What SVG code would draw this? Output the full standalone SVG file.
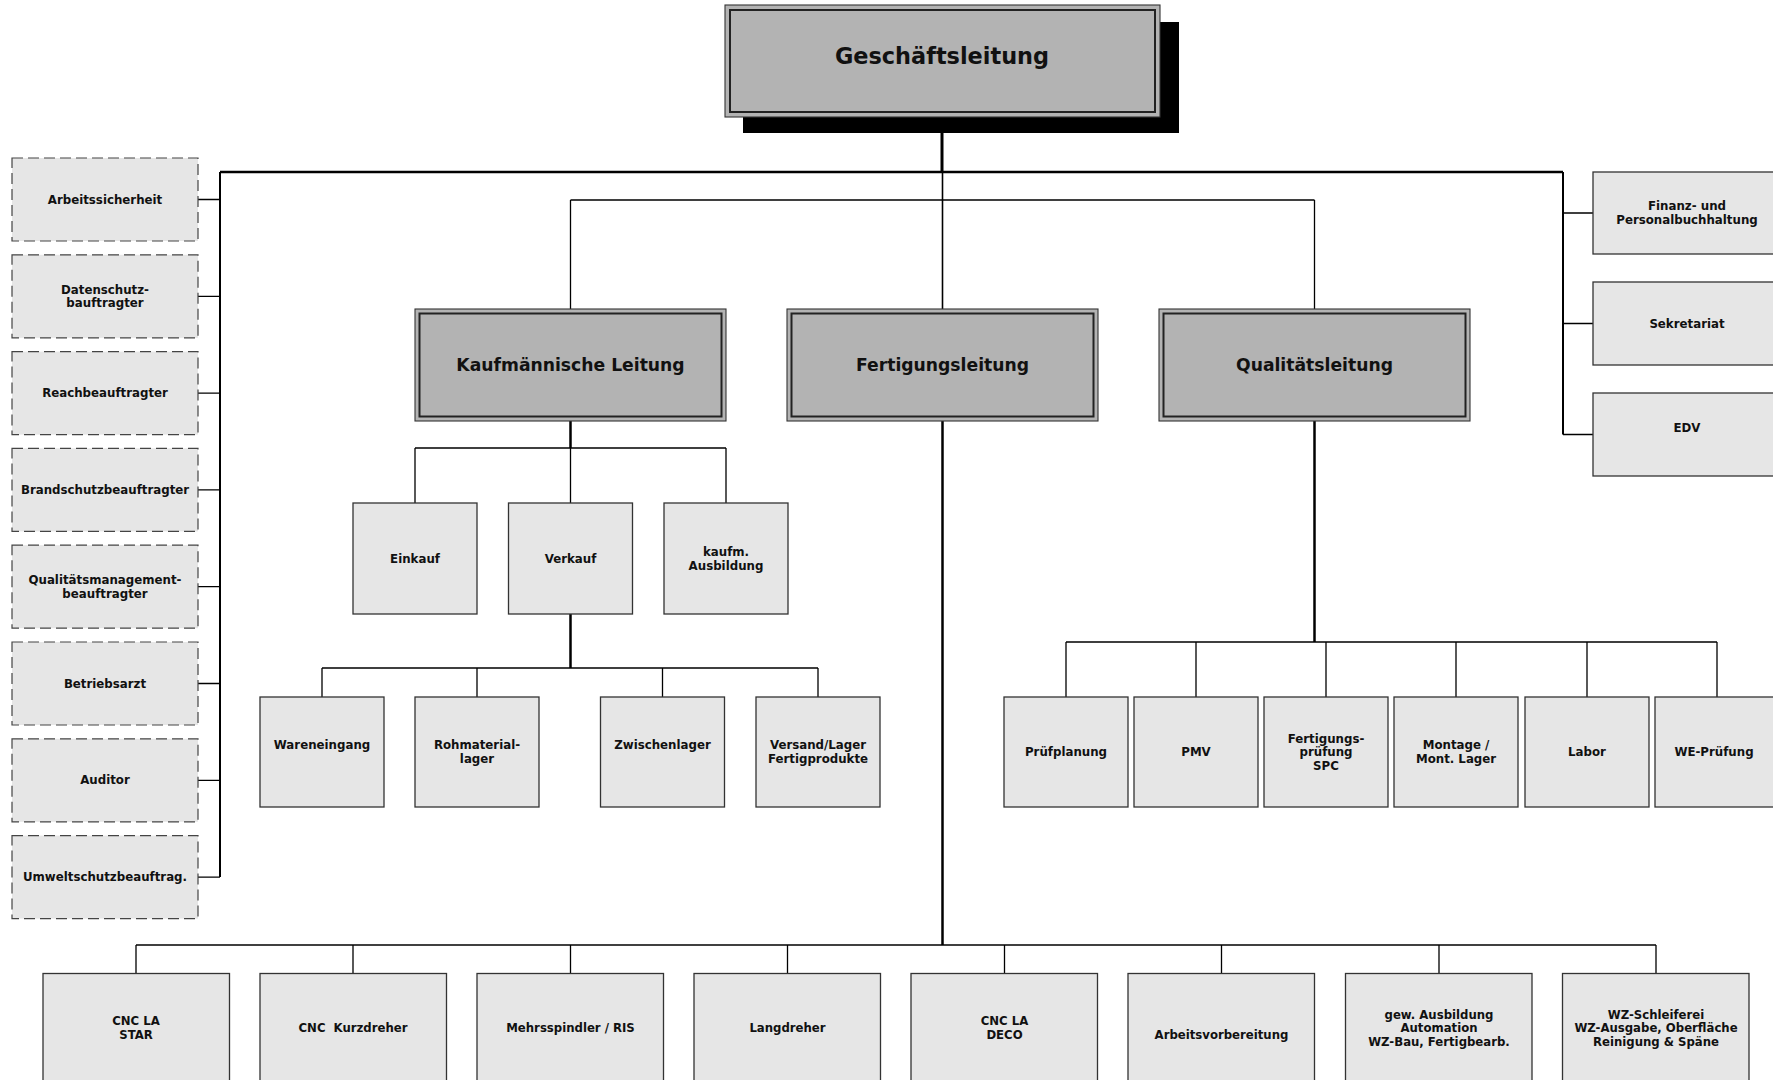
<svg xmlns="http://www.w3.org/2000/svg" width="1773" height="1080" viewBox="0 0 1773 1080">
<style>
.big{fill:#b3b3b3;stroke:#333;stroke-width:1.1}
.bigin{fill:none;stroke:#222;stroke-width:2}
.box{fill:#e6e6e6;stroke:#333;stroke-width:1.3}
.dbox{fill:#e6e6e6;stroke:#444;stroke-width:1.2;stroke-dasharray:11 5}
.t{font-family:"DejaVu Sans",sans-serif;font-weight:bold;font-size:11.8px;text-anchor:middle;fill:#111}
.tc{font-family:"DejaVu Sans Condensed","DejaVu Sans",sans-serif;font-stretch:condensed;font-weight:bold;font-size:13px;text-anchor:middle;fill:#111}
.t2{font-family:"DejaVu Sans",sans-serif;font-weight:bold;font-size:17.2px;text-anchor:middle;fill:#111}
.t1{font-family:"DejaVu Sans",sans-serif;font-weight:bold;font-size:22.4px;text-anchor:middle;fill:#111}
.c{fill:none;stroke:#000;stroke-width:1.3}
.ck{fill:none;stroke:#000;stroke-width:2.5}
</style>
<rect width="1773" height="1080" fill="#fff"/>
<g id="connectors">
<path class="ck" d="M942 117V172" style="stroke-width:3"/>
<path class="ck" d="M220 172H1563"/>
<path class="c" d="M220 172V877.1" style="stroke-width:2"/>
<path class="c" d="M198 199.5H220M198 296.3H220M198 393.1H220M198 489.9H220M198 586.7H220M198 683.5H220M198 780.3H220M198 877.1H220"/>
<path class="c" d="M1563 172V434.5" style="stroke-width:2"/>
<path class="c" d="M1563 213H1593M1563 323.5H1593M1563 434.5H1593"/>
<path class="c" d="M942.5 172V309" style="stroke-width:1.6"/>
<path class="c" d="M570.5 200H1314.5M570.5 200V309M1314.5 200V309"/>
<path class="ck" d="M570.5 421V448"/>
<path class="c" d="M415 448H726M415 448V503M570.5 448V503M726 448V503"/>
<path class="ck" d="M570.5 614V668"/>
<path class="c" d="M322 668H818M322 668V697M477 668V697M662.5 668V697M818 668V697"/>
<path class="ck" d="M1314.5 421V642"/>
<path class="c" d="M1066 642H1717M1066 642V697M1196 642V697M1326 642V697M1456 642V697M1587 642V697M1717 642V697"/>
<path class="ck" d="M942.5 421V945"/>
<path class="c" d="M136 945H1656" style="stroke-width:1.7"/>
<path class="c" d="M136 945V973.5M353 945V973.5M570.5 945V973.5M787.5 945V973.5M1004.5 945V973.5M1221.5 945V973.5M1439 945V973.5M1656 945V973.5"/>
</g>
<g id="geschaeftsleitung">
<rect x="743" y="22" width="436" height="111" fill="#000"/>
<rect class="big" x="725" y="5" width="435" height="112"/>
<rect class="bigin" x="730" y="10" width="425" height="102"/>
<text class="t1" x="942" y="64">Geschäftsleitung</text>
</g>
<g id="kaufm-leitung">
<rect class="big" x="415" y="309" width="311" height="112"/>
<rect class="bigin" x="419.5" y="313.5" width="302" height="103"/>
<text class="t2" x="570.5" y="371">Kaufmännische Leitung</text>
</g>
<g id="fertigungsleitung">
<rect class="big" x="787" y="309" width="311" height="112"/>
<rect class="bigin" x="791.5" y="313.5" width="302" height="103"/>
<text class="t2" x="942.5" y="371">Fertigungsleitung</text>
</g>
<g id="qualitaetsleitung">
<rect class="big" x="1159" y="309" width="311" height="112"/>
<rect class="bigin" x="1163.5" y="313.5" width="302" height="103"/>
<text class="t2" x="1314.5" y="371">Qualitätsleitung</text>
</g>
<g id="arbeitssicherheit"><rect class="dbox" x="12" y="158" width="186" height="83"/><text class="t" x="105" y="203.5">Arbeitssicherheit</text></g>
<g id="datenschutz"><rect class="dbox" x="12" y="254.8" width="186" height="83"/><text class="t" x="105" y="293.5">Datenschutz-</text><text class="t" x="105" y="307">bauftragter</text></g>
<g id="reach"><rect class="dbox" x="12" y="351.6" width="186" height="83"/><text class="t" x="105" y="397.1">Reachbeauftragter</text></g>
<g id="brandschutz"><rect class="dbox" x="12" y="448.4" width="186" height="83"/><text class="t" x="105" y="493.9">Brandschutzbeauftragter</text></g>
<g id="qm"><rect class="dbox" x="12" y="545.2" width="186" height="83"/><text class="t" x="105" y="584">Qualitätsmanagement-</text><text class="t" x="105" y="597.5">beauftragter</text></g>
<g id="betriebsarzt"><rect class="dbox" x="12" y="642" width="186" height="83"/><text class="t" x="105" y="687.5">Betriebsarzt</text></g>
<g id="auditor"><rect class="dbox" x="12" y="738.8" width="186" height="83"/><text class="t" x="105" y="784.3">Auditor</text></g>
<g id="umwelt"><rect class="dbox" x="12" y="835.6" width="186" height="83"/><text class="t" x="105" y="881.1">Umweltschutzbeauftrag.</text></g>
<g id="finanz"><rect class="box" x="1593" y="172" width="190" height="82"/><text class="t" x="1687" y="210">Finanz- und</text><text class="t" x="1687" y="223.5">Personalbuchhaltung</text></g>
<g id="sekretariat"><rect class="box" x="1593" y="282" width="190" height="83"/><text class="t" x="1687" y="327.5">Sekretariat</text></g>
<g id="edv"><rect class="box" x="1593" y="393" width="190" height="83"/><text class="t" x="1687" y="431.5">EDV</text></g>
<g id="einkauf"><rect class="box" x="353" y="503" width="124" height="111"/><text class="t" x="415" y="562.5">Einkauf</text></g>
<g id="verkauf"><rect class="box" x="508.5" y="503" width="124" height="111"/><text class="t" x="570.5" y="562.5">Verkauf</text></g>
<g id="kaufm-ausbildung"><rect class="box" x="664" y="503" width="124" height="111"/><text class="t" x="726" y="556">kaufm.</text><text class="t" x="726" y="569.5">Ausbildung</text></g>
<g id="wareneingang"><rect class="box" x="260" y="697" width="124" height="110"/><text class="t" x="322" y="749">Wareneingang</text></g>
<g id="rohmaterial"><rect class="box" x="415" y="697" width="124" height="110"/><text class="t" x="477" y="749">Rohmaterial-</text><text class="t" x="477" y="762.5">lager</text></g>
<g id="zwischenlager"><rect class="box" x="600.5" y="697" width="124" height="110"/><text class="t" x="662.5" y="749">Zwischenlager</text></g>
<g id="versand"><rect class="box" x="756" y="697" width="124" height="110"/><text class="t" x="818" y="749">Versand/Lager</text><text class="t" x="818" y="762.5">Fertigprodukte</text></g>
<g id="pruefplanung"><rect class="box" x="1004" y="697" width="124" height="110"/><text class="t" x="1066" y="756">Prüfplanung</text></g>
<g id="pmv"><rect class="box" x="1134" y="697" width="124" height="110"/><text class="t" x="1196" y="756">PMV</text></g>
<g id="fertigungspruefung"><rect class="box" x="1264" y="697" width="124" height="110"/><text class="t" x="1326" y="742.5">Fertigungs-</text><text class="t" x="1326" y="756">prüfung</text><text class="t" x="1326" y="769.5">SPC</text></g>
<g id="montage"><rect class="box" x="1394" y="697" width="124" height="110"/><text class="t" x="1456" y="749">Montage /</text><text class="t" x="1456" y="762.5">Mont. Lager</text></g>
<g id="labor"><rect class="box" x="1525" y="697" width="124" height="110"/><text class="t" x="1587" y="756">Labor</text></g>
<g id="we-pruefung"><rect class="box" x="1655" y="697" width="124" height="110"/><text class="t" x="1714" y="756">WE-Prüfung</text></g>
<g id="cnc-la-star"><rect class="box" x="43" y="973.5" width="186.5" height="120"/><text class="tc" x="136" y="1025">CNC LA</text><text class="tc" x="136" y="1038.5">STAR</text></g>
<g id="cnc-kurzdreher"><rect class="box" x="260" y="973.5" width="186.5" height="120"/><text class="tc" x="353" y="1031.5" xml:space="preserve">CNC  Kurzdreher</text></g>
<g id="mehrspindler"><rect class="box" x="477" y="973.5" width="186.5" height="120"/><text class="tc" x="570.5" y="1031.5">Mehrsspindler / RIS</text></g>
<g id="langdreher"><rect class="box" x="694" y="973.5" width="186.5" height="120"/><text class="tc" x="787.5" y="1031.5">Langdreher</text></g>
<g id="cnc-la-deco"><rect class="box" x="911" y="973.5" width="186.5" height="120"/><text class="tc" x="1004.5" y="1025">CNC LA</text><text class="tc" x="1004.5" y="1038.5">DECO</text></g>
<g id="arbeitsvorbereitung"><rect class="box" x="1128" y="973.5" width="186.5" height="120"/><text class="tc" x="1221.5" y="1038.5">Arbeitsvorbereitung</text></g>
<g id="gew-ausbildung"><rect class="box" x="1345.5" y="973.5" width="186.5" height="120"/><text class="tc" x="1439" y="1018.5">gew. Ausbildung</text><text class="tc" x="1439" y="1032">Automation</text><text class="tc" x="1439" y="1045.5">WZ-Bau, Fertigbearb.</text></g>
<g id="wz-schleiferei"><rect class="box" x="1562.5" y="973.5" width="186.5" height="120"/><text class="tc" x="1656" y="1018.5">WZ-Schleiferei</text><text class="tc" x="1656" y="1032">WZ-Ausgabe, Oberfläche</text><text class="tc" x="1656" y="1045.5">Reinigung &amp; Späne</text></g>
</svg>
